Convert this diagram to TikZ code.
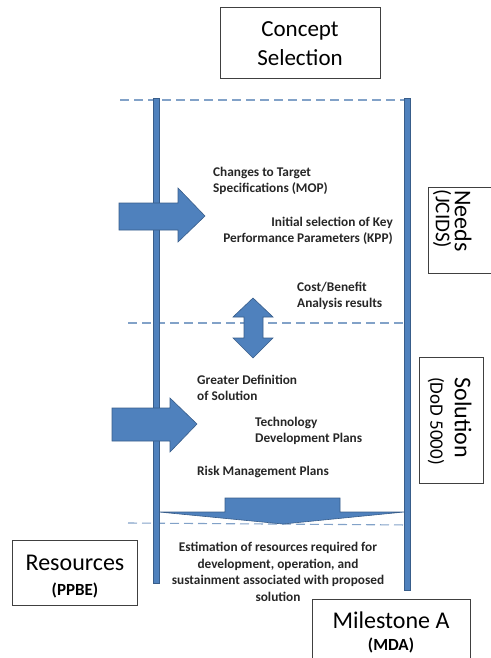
\documentclass[tikz,border=0pt]{standalone}
\usepackage{fontspec}
\setmainfont{Carlito}
\definecolor{barblue}{RGB}{79,129,189}
\definecolor{edgeblue}{RGB}{56,93,138}
\definecolor{dashblue}{RGB}{130,162,200}
\begin{document}
\begin{tikzpicture}[x=1pt,y=-1pt,
  bar/.style={fill=barblue,draw=edgeblue,line width=0.6pt},
  dashline/.style={draw=dashblue,line width=1.1pt,dash pattern=on 9pt off 5pt},
  lbl/.style={font=\fontsize{13.3}{16.5}\selectfont\bfseries,inner sep=0pt,text=black!85},
  box/.style={draw=black!75,line width=0.9pt,inner sep=0pt},
  bigtxt/.style={font=\fontsize{24}{28}\selectfont,inner sep=0pt},
  subtxt/.style={font=\fontsize{17}{20}\selectfont\bfseries,inner sep=0pt},
  ]
\useasboundingbox (0,0) rectangle (490,658);

% dashed phase lines
\coordinate (d1a) at (120,100); \coordinate (d1b) at (410,100);
\coordinate (d2a) at (128,323); \coordinate (d2b) at (410,323);
\coordinate (d3a) at (128,523); \coordinate (d3b) at (410,525);
\draw[dashline] (d1a) -- (d1b);
\draw[dashline] (d2a) -- (d2b);
\draw[dashline] (d3a) -- (d3b);

% vertical bars
\draw[bar] (153,98) rectangle (159,583);
\draw[bar] (404,98) rectangle (410,590);

% block arrow 1
\draw[bar] (119,203) -- (178,203) -- (178,188) -- (205,216) -- (178,242) -- (178,230) -- (119,230) -- cycle;
% block arrow 2
\draw[bar] (112,408) -- (170,408) -- (170,398) -- (197,424) -- (170,452) -- (170,441) -- (112,441) -- cycle;
% double arrow
\draw[bar] (253,298) -- (273,317) -- (263,317) -- (263,338) -- (273,338) -- (253,358) -- (233,338) -- (244,338) -- (244,317) -- (233,317) -- cycle;
% bottom down arrow
\draw[bar] (225,498) -- (340,498) -- (340,512) -- (404,512) -- (283,524) -- (159,512) -- (225,512) -- cycle;

% boxes
\node[box,minimum width=160,minimum height=71] (cs) at (300,42.5) {};
\node[bigtxt,align=center,font=\fontsize{23}{29}\selectfont] (csT) at (300,44) {Concept\\Selection};

\draw[box] (492,187) -- (428,187) -- (428,273) -- (492,273);
\coordinate (needsbox) at (459,230);
\node[bigtxt,rotate=-90] (needsT) at (463,221) {Needs};
\node[font=\fontsize{21}{24}\selectfont,inner sep=0pt,rotate=-90] (needsS) at (442,219) {(JCIDS)};

\node[box,minimum width=64,minimum height=126] (sol) at (451,420) {};
\node[bigtxt,rotate=-90] (solT) at (463,418) {Solution};
\node[font=\fontsize{19}{22}\selectfont,inner sep=0pt,rotate=-90] (solS) at (436,421) {(DoD 5000)};

\node[box,minimum width=125,minimum height=65] (res) at (74.5,572.5) {};
\node[bigtxt] (resT) at (75,563) {Resources};
\node[subtxt] (resS) at (75,590) {(PPBE)};

\draw[box] (312,660) -- (312,599) -- (470,599) -- (470,660);
\node[bigtxt] (msT) at (391,620) {Milestone A};
\node[subtxt] (msS) at (391,645) {(MDA)};

% labels
\node[lbl,anchor=west,align=left] (l1) at (213,181) {Changes to Target\\Specifications (MOP)};
\node[lbl,anchor=east,align=right] (l2) at (393,231) {Initial selection of Key\\Performance Parameters (KPP)};
\node[lbl,anchor=west,align=left] (l3) at (297,296) {Cost/Benefit\\Analysis results};
\node[lbl,anchor=west,align=left] (l4) at (197,388) {Greater Definition\\of Solution};
\node[lbl,anchor=west,align=left] (l5) at (255,431) {Technology\\Development Plans};
\node[lbl,anchor=west] (l6) at (197,472) {Risk Management Plans};
\node[lbl,align=center] (l7) at (278,572) {Estimation of resources required for\\development, operation, and\\sustainment associated with proposed\\solution};
\end{tikzpicture}
\end{document}
